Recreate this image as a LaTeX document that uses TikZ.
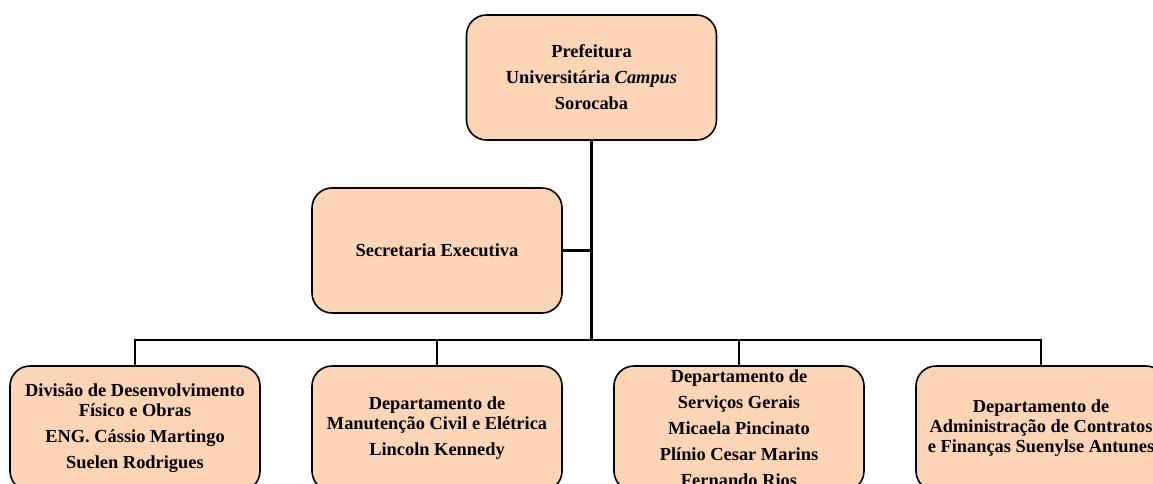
\documentclass[tikz,border=0pt]{standalone}
\usepackage{fontspec}
\setmainfont{Liberation Serif}
\usetikzlibrary{positioning}
\definecolor{peach}{RGB}{251,213,181}

\begin{document}
\begin{tikzpicture}[
    x=1pt, y=-1pt,
    unit/.style={draw, line width=1.6pt, fill=peach, rounded corners=20pt, minimum width=250pt, minimum height=125pt, inner sep=0pt},
    txt/.style={align=center, inner sep=0pt, font=\fontsize{18.4}{20}\selectfont\bfseries},
    wire/.style={line width=2.5pt}
  ]
  \useasboundingbox (0,0) rectangle (1153,483);

  % boxes
  \node[unit] (pref) at (591.5,77.5) {};
  \node[unit] (sec) at (437,250.5) {};
  \node[unit] (ddfo) at (135,428.5) {};
  \node[unit] (dmce) [right=50.4pt of ddfo] {};
  \node[unit] (dsg) [right=50.4pt of dmce] {};
  \node[unit] (dacf) [right=50.4pt of dsg] {};

  % texts
  \node[txt] (t-pref) at (pref) {Prefeitura\\[6pt] Universitária \textit{Campus}\\[6pt] Sorocaba};
  \node[txt] (t-sec) at (sec) {Secretaria Executiva};
  \node[txt] (t-ddfo) at (ddfo) {Divisão de Desenvolvimento\\ Físico e Obras\\[6pt] ENG. Cássio Martingo\\[6pt] Suelen Rodrigues};
  \node[txt] (t-dmce) at (dmce) {Departamento de\\ Manutenção Civil e Elétrica\\[6pt] Lincoln Kennedy};
  \node[txt] (t-dsg) at (dsg) {Departamento de\\[6pt] Serviços Gerais\\[6pt] Micaela Pincinato\\[6pt] Plínio Cesar Marins\\[6pt] Fernando Rios};
  \node[txt] (t-dacf) at (dacf) {Departamento de\\ Administração de Contratos\\ e Finanças Suenylse Antunes};

  % connectors
  \coordinate (bus) at (591,340);
  \draw[wire] (pref.south) -- (pref.south |- bus);
  \draw[wire] (sec.east) -- (sec.east -| pref.south);
  \draw[wire] (ddfo.north) -- (ddfo.north |- bus) -- (dacf.north |- bus) -- (dacf.north);
  \foreach \n in {dmce, dsg}
    \draw[wire] (\n.north) -- (\n.north |- bus);
\end{tikzpicture}
\end{document}
